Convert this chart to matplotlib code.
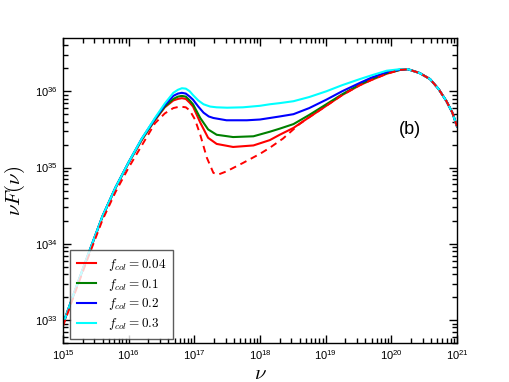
import numpy as np
import matplotlib
matplotlib.use("Agg")
import matplotlib.pyplot as plt
from matplotlib.ticker import FixedLocator, FuncFormatter, NullFormatter

plt.rcParams['mathtext.fontset'] = 'cm'
plt.rcParams['font.family'] = ['Liberation Sans', 'DejaVu Sans']

# log10(nu) and log10(nu F_nu)
lognu_cyan = [15.0, 15.2, 15.4, 15.6, 15.8, 16.0, 16.2, 16.4, 16.55, 16.68, 16.75, 16.81, 16.87,
              16.93, 16.98, 17.06, 17.14, 17.24, 17.34, 17.5, 17.74, 18.0, 18.15, 18.3, 18.51,
              18.75, 19.01, 19.25, 19.52, 19.7, 19.93, 20.13, 20.25, 20.43, 20.59, 20.72,
              20.84, 20.93, 21.0]
f_cyan = [32.95, 33.43, 33.90, 34.36, 34.74, 35.07, 35.38, 35.65, 35.84, 35.98, 36.02, 36.04, 36.035,
          36.00, 35.95, 35.88, 35.83, 35.80, 35.79, 35.785, 35.79, 35.81, 35.83, 35.845, 35.87,
          35.925, 36.00, 36.08, 36.16, 36.21, 36.27, 36.29, 36.29, 36.24, 36.16, 36.03,
          35.87, 35.72, 35.54]

lognu_blue = [15.0, 15.2, 15.4, 15.6, 15.8, 16.0, 16.2, 16.4, 16.55, 16.68, 16.75, 16.81, 16.87,
              16.93, 16.98, 17.06, 17.14, 17.22, 17.29, 17.49, 17.8, 18.0, 18.15, 18.3, 18.51,
              18.75, 19.01, 19.25, 19.52, 19.7, 19.93, 20.13, 20.25, 20.43, 20.59, 20.72,
              20.84, 20.93, 21.0]
f_blue = [32.95, 33.43, 33.90, 34.36, 34.74, 35.07, 35.38, 35.64, 35.82, 35.94, 35.97, 35.98, 35.97,
          35.93, 35.89, 35.80, 35.72, 35.67, 35.65, 35.62, 35.62, 35.63, 35.65, 35.67, 35.70,
          35.78, 35.89, 36.00, 36.11, 36.18, 36.25, 36.285, 36.29, 36.24, 36.16, 36.03,
          35.87, 35.72, 35.54]

lognu_green = [15.0, 15.2, 15.4, 15.6, 15.8, 16.0, 16.2, 16.4, 16.55, 16.68, 16.75, 16.81, 16.87,
               16.93, 16.98, 17.09, 17.21, 17.34, 17.59, 17.9, 18.15, 18.3, 18.51, 18.75, 19.01,
               19.25, 19.52, 19.7, 19.93, 20.13, 20.25, 20.43, 20.59, 20.72, 20.84, 20.93, 21.0]
f_green = [32.95, 33.43, 33.90, 34.36, 34.74, 35.07, 35.37, 35.63, 35.80, 35.90, 35.93, 35.94, 35.93,
           35.88, 35.83, 35.65, 35.50, 35.43, 35.40, 35.41, 35.47, 35.51, 35.57, 35.69, 35.83,
           35.96, 36.09, 36.16, 36.24, 36.28, 36.29, 36.24, 36.16, 36.03, 35.87, 35.72, 35.54]

lognu_red = [15.0, 15.2, 15.4, 15.6, 15.8, 16.0, 16.2, 16.4, 16.55, 16.68, 16.75, 16.81, 16.87,
             16.93, 16.98, 17.09, 17.21, 17.34, 17.59, 17.9, 18.15, 18.3, 18.51, 18.75, 19.01,
             19.25, 19.52, 19.7, 19.93, 20.13, 20.25, 20.43, 20.59, 20.72, 20.84, 20.93, 21.0]
f_red = [32.94, 33.42, 33.89, 34.35, 34.73, 35.06, 35.36, 35.62, 35.79, 35.88, 35.90, 35.91, 35.90,
         35.85, 35.80, 35.59, 35.39, 35.31, 35.27, 35.29, 35.36, 35.43, 35.52, 35.66, 35.81,
         35.95, 36.08, 36.15, 36.23, 36.28, 36.29, 36.24, 36.16, 36.03, 35.87, 35.72, 35.54]

lognu_dash = [15.0, 15.2, 15.4, 15.6, 15.8, 16.0, 16.2, 16.4, 16.55, 16.68, 16.78, 16.87, 16.93,
              17.01, 17.09, 17.19, 17.29, 17.37, 17.49, 17.74, 18.0, 18.15, 18.35, 18.6, 18.75,
              19.01, 19.25, 19.52, 19.7, 19.93, 20.13, 20.25, 20.43, 20.59, 20.72, 20.84, 20.93,
              21.0]
f_dash = [32.92, 33.40, 33.86, 34.31, 34.68, 35.00, 35.29, 35.58, 35.71, 35.78, 35.80, 35.79, 35.75,
          35.63, 35.43, 35.13, 34.93, 34.91, 34.95, 35.06, 35.18, 35.26, 35.38, 35.57, 35.66,
          35.81, 35.95, 36.08, 36.15, 36.23, 36.28, 36.29, 36.24, 36.16, 36.03, 35.87, 35.72,
          35.54]

labels = [r'$f_{col}=0.04$', r'$f_{col}=0.1$', r'$f_{col}=0.2$', r'$f_{col}=0.3$']
xs = [lognu_red, lognu_green, lognu_blue, lognu_cyan]
series = [f_red, f_green, f_blue, f_cyan]
colors = ['#ff0000', '#008000', '#0000ff', '#00ffff']

fig = plt.figure(figsize=(5.09, 3.82), dpi=100)
ax = fig.add_axes([0.1238, 0.1021, 0.7740, 0.7984])

for x, s, c, l in zip(xs, series, colors, labels):
    ax.plot(10 ** np.array(x), 10 ** np.array(s), color=c, lw=1.5, label=l)
ax.plot(10 ** np.array(lognu_dash), 10 ** np.array(f_dash), color='#ff0000', lw=1.4,
        ls=(0, (3.5, 2.5)))

ax.set_xscale('log')
ax.set_yscale('log')
ax.set_xlim(1e15, 1e21)
ax.set_ylim(5e32, 5e36)

fmt = FuncFormatter(lambda v, p: r'$\mathregular{10^{%d}}$' % round(np.log10(v)))
xmaj = [10.0 ** k for k in range(15, 22)]
ymaj = [10.0 ** k for k in range(33, 37)]
xmin = [m * 10.0 ** k for k in range(15, 21) for m in range(2, 10)]
ymin = [m * 10.0 ** k for k in range(32, 37) for m in range(2, 10)
        if 5e32 <= m * 10.0 ** k <= 5e36]
ax.xaxis.set_major_locator(FixedLocator(xmaj))
ax.yaxis.set_major_locator(FixedLocator(ymaj))
ax.xaxis.set_minor_locator(FixedLocator(xmin))
ax.yaxis.set_minor_locator(FixedLocator(ymin))
ax.xaxis.set_major_formatter(fmt)
ax.yaxis.set_major_formatter(fmt)
ax.xaxis.set_minor_formatter(NullFormatter())
ax.yaxis.set_minor_formatter(NullFormatter())
ax.tick_params(which='both', direction='in', top=True, right=True, labelsize=8, width=1.0)
ax.tick_params(which='major', length=6)
ax.tick_params(which='minor', length=3.5)
for sp in ax.spines.values():
    sp.set_linewidth(1.0)

ax.set_xlabel(r'$\nu$', fontsize=15, labelpad=2)
ax.set_ylabel(r'$\nu F(\nu)$', fontsize=15, labelpad=6)

ax.text(0.88, 0.70, '(b)', transform=ax.transAxes, fontsize=13, ha='center', va='center')

leg = ax.legend(loc='lower left', bbox_to_anchor=(0.018, 0.013), fontsize=9.5,
                frameon=True, fancybox=False, edgecolor='#333333', handlelength=1.5,
                handletextpad=0.9, labelspacing=0.3, borderpad=0.5, borderaxespad=0.0)
leg.get_frame().set_linewidth(1.0)

fig.savefig('out.png', dpi=100)
